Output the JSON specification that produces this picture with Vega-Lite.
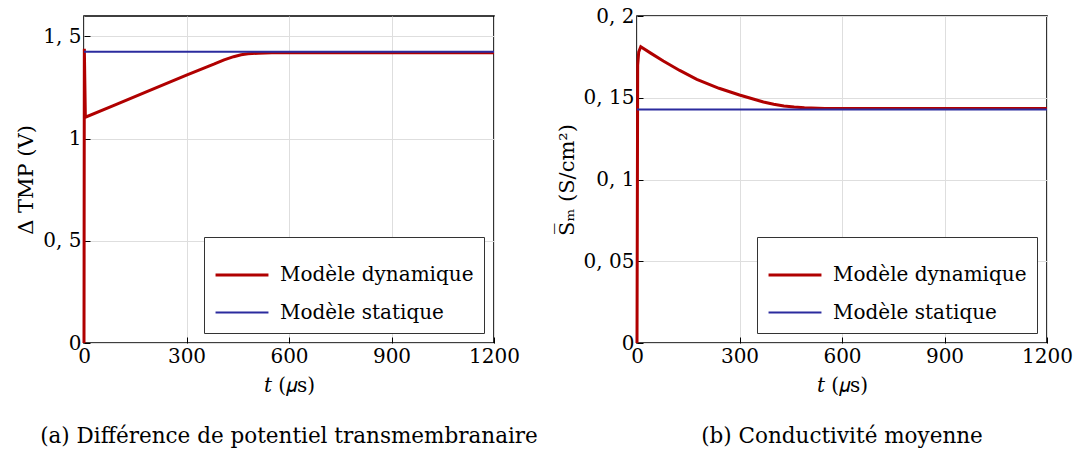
{
  "$schema": "https://vega.github.io/schema/vega-lite/v6.json",
  "padding": {"left": 15, "top": 5, "right": 0, "bottom": 0},
  "spacing": 16,
  "datasets": {
    "tmp": [
      {"modele": "Modèle dynamique", "t": 0, "v": 0},
      {"modele": "Modèle dynamique", "t": 1, "v": 1.44},
      {"modele": "Modèle dynamique", "t": 4, "v": 1.105},
      {"modele": "Modèle dynamique", "t": 86, "v": 1.162},
      {"modele": "Modèle dynamique", "t": 184, "v": 1.23},
      {"modele": "Modèle dynamique", "t": 300, "v": 1.311},
      {"modele": "Modèle dynamique", "t": 340, "v": 1.338},
      {"modele": "Modèle dynamique", "t": 380, "v": 1.364},
      {"modele": "Modèle dynamique", "t": 410, "v": 1.385},
      {"modele": "Modèle dynamique", "t": 438, "v": 1.401},
      {"modele": "Modèle dynamique", "t": 460, "v": 1.41},
      {"modele": "Modèle dynamique", "t": 480, "v": 1.415},
      {"modele": "Modèle dynamique", "t": 510, "v": 1.418},
      {"modele": "Modèle dynamique", "t": 550, "v": 1.42},
      {"modele": "Modèle dynamique", "t": 600, "v": 1.42},
      {"modele": "Modèle dynamique", "t": 1200, "v": 1.42},
      {"modele": "Modèle statique", "t": 0, "v": 1.425},
      {"modele": "Modèle statique", "t": 1200, "v": 1.425}
    ],
    "cond": [
      {"modele": "Modèle dynamique", "t": 0, "v": 0},
      {"modele": "Modèle dynamique", "t": 2, "v": 0.17},
      {"modele": "Modèle dynamique", "t": 5, "v": 0.178},
      {"modele": "Modèle dynamique", "t": 11, "v": 0.1812},
      {"modele": "Modèle dynamique", "t": 40, "v": 0.1773},
      {"modele": "Modèle dynamique", "t": 77, "v": 0.1725},
      {"modele": "Modèle dynamique", "t": 125, "v": 0.1667},
      {"modele": "Modèle dynamique", "t": 175, "v": 0.1613},
      {"modele": "Modèle dynamique", "t": 240, "v": 0.1558},
      {"modele": "Modèle dynamique", "t": 300, "v": 0.1517},
      {"modele": "Modèle dynamique", "t": 340, "v": 0.1492},
      {"modele": "Modèle dynamique", "t": 370, "v": 0.1474},
      {"modele": "Modèle dynamique", "t": 400, "v": 0.146},
      {"modele": "Modèle dynamique", "t": 430, "v": 0.145},
      {"modele": "Modèle dynamique", "t": 460, "v": 0.1443},
      {"modele": "Modèle dynamique", "t": 490, "v": 0.1439},
      {"modele": "Modèle dynamique", "t": 550, "v": 0.1435},
      {"modele": "Modèle dynamique", "t": 1200, "v": 0.1434},
      {"modele": "Modèle statique", "t": 0, "v": 0.1428},
      {"modele": "Modèle statique", "t": 1200, "v": 0.1428}
    ]
  },
  "config": {
    "font": "DejaVu Serif",
    "view": {"stroke": "black", "strokeWidth": 1.6},
    "axis": {
      "grid": true,
      "gridColor": "#dedede",
      "gridWidth": 1,
      "domain": false,
      "ticks": true,
      "tickColor": "black",
      "tickSize": -6,
      "tickWidth": 1,
      "labelFontSize": 20,
      "labelColor": "black",
      "labelFlush": false,
      "labelOverlap": false,
      "labelPadding": 9,
      "labelExpr": "replace(datum.value + '', '.', ', ')",
      "titleFontSize": 20,
      "titleFontWeight": "normal",
      "titleColor": "black"
    },
    "axisY": {"titlePadding": 6, "titleFontSize": 21},
    "axisX": {"titlePadding": 9},
    "legend": {
      "orient": "bottom-right",
      "offset": 10,
      "strokeColor": "#333333",
      "fillColor": "white",
      "padding": 10,
      "symbolType": "stroke",
      "symbolSize": 2800,
      "labelFontSize": 20,
      "labelColor": "black",
      "labelOffset": 10,
      "labelLimit": 400,
      "rowPadding": -3
    },
    "title": {"fontSize": 21.5, "fontWeight": "normal", "color": "black", "orient": "bottom", "anchor": "middle", "offset": 31}
  },
  "hconcat": [
    {
      "width": 410,
      "height": 327,
      "data": {"name": "tmp"},
      "title": "(a) Différence de potentiel transmembranaire",
      "mark": {"type": "line"},
      "encoding": {
        "x": {"field": "t", "type": "quantitative", "scale": {"domain": [0, 1200], "nice": false}, "axis": {"values": [0, 300, 600, 900, 1200], "title": "𝑡 (𝜇s)"}},
        "y": {"field": "v", "type": "quantitative", "scale": {"domain": [0, 1.6], "nice": false}, "axis": {"values": [0, 0.5, 1, 1.5], "title": "Δ TMP (V)"}},
        "color": {"field": "modele", "type": "nominal", "scale": {"domain": ["Modèle dynamique", "Modèle statique"], "range": ["#b00000", "#2b2b9e"]}, "legend": {"title": null}},
        "strokeWidth": {"field": "modele", "type": "nominal", "scale": {"domain": ["Modèle dynamique", "Modèle statique"], "range": [3, 2]}, "legend": {"title": null}}
      }
    },
    {
      "width": 410,
      "height": 327,
      "data": {"name": "cond"},
      "title": "(b) Conductivité moyenne",
      "mark": {"type": "line"},
      "encoding": {
        "x": {"field": "t", "type": "quantitative", "scale": {"domain": [0, 1200], "nice": false}, "axis": {"values": [0, 300, 600, 900, 1200], "title": "𝑡 (𝜇s)"}},
        "y": {"field": "v", "type": "quantitative", "scale": {"domain": [0, 0.2], "nice": false}, "axis": {"values": [0, 0.05, 0.1, 0.15, 0.2], "title": "S̅ₘ (S/cm²)"}},
        "color": {"field": "modele", "type": "nominal", "scale": {"domain": ["Modèle dynamique", "Modèle statique"], "range": ["#b00000", "#2b2b9e"]}, "legend": {"title": null}},
        "strokeWidth": {"field": "modele", "type": "nominal", "scale": {"domain": ["Modèle dynamique", "Modèle statique"], "range": [3, 2]}, "legend": {"title": null}}
      }
    }
  ],
  "resolve": {"scale": {"y": "independent"}, "legend": {"color": "independent", "strokeWidth": "independent"}}
}
